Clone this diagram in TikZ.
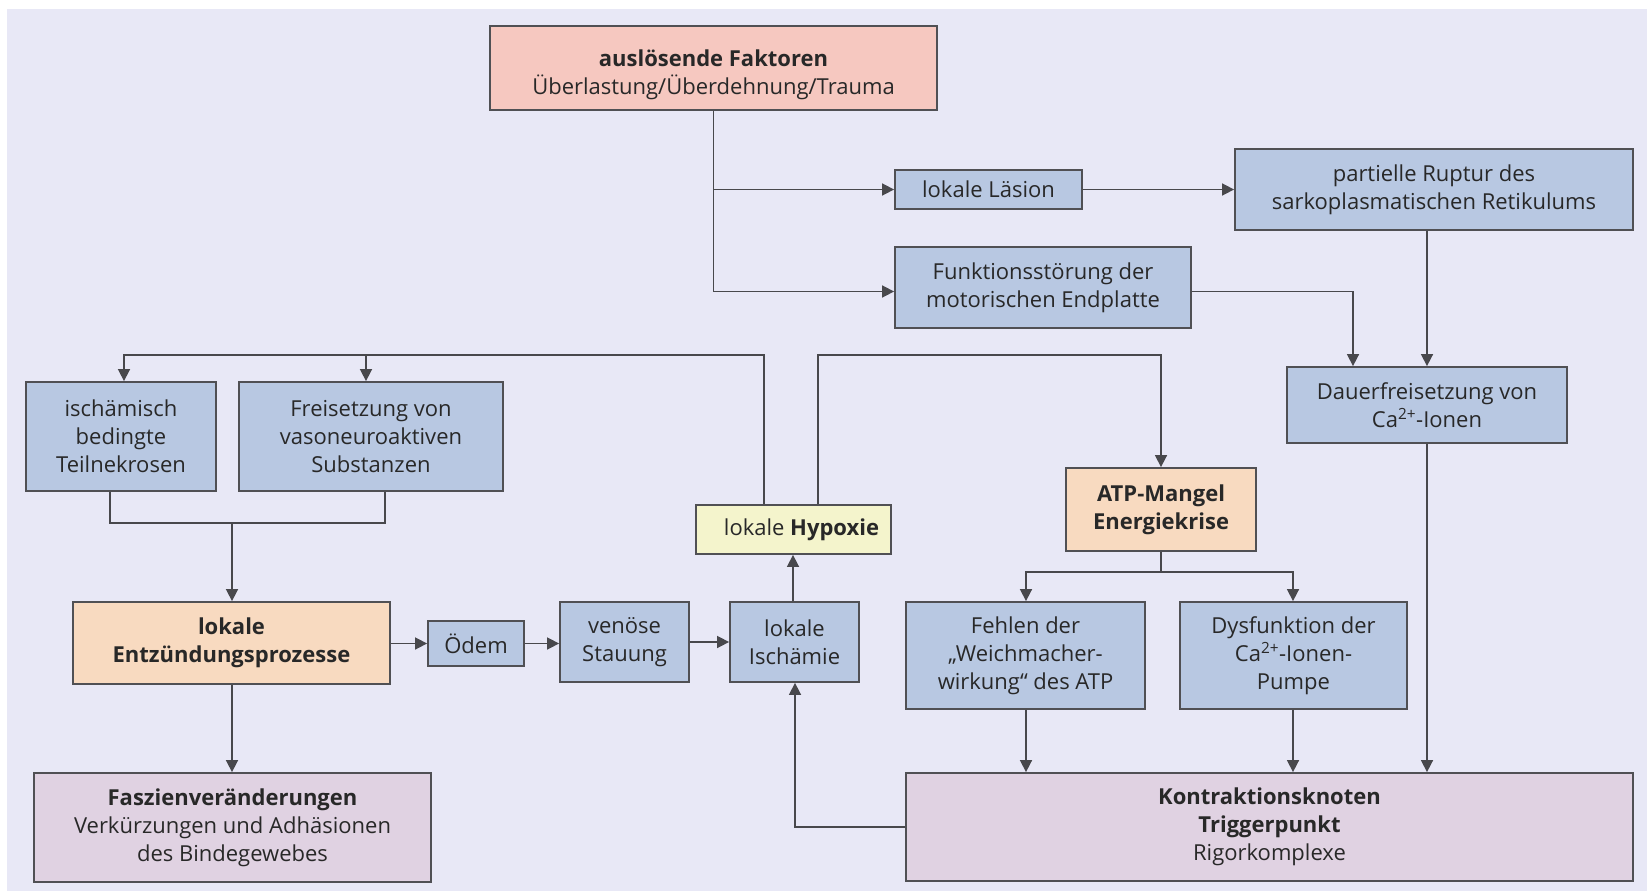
\documentclass[tikz,border=0pt]{standalone}
\usepackage{fontspec}
\setmainfont{Open Sans}
\usetikzlibrary{arrows.meta}
\definecolor{bgc}{RGB}{232,232,246}
\definecolor{blu}{RGB}{184,200,226}
\definecolor{pnk}{RGB}{246,200,192}
\definecolor{org}{RGB}{248,218,192}
\definecolor{ylw}{RGB}{244,244,204}
\definecolor{prp}{RGB}{224,210,226}
\definecolor{edge}{RGB}{80,80,84}
\definecolor{txt}{RGB}{40,40,40}
\begin{document}
\begin{tikzpicture}[x=1pt,y=-1pt,
  box/.style={draw=edge, line width=1.8pt, align=center, text=txt, inner sep=2pt,
    font=\fontsize{22}{28}\selectfont},
  bluebox/.style={box, fill=blu},
  line/.style={draw=edge!90!black, line width=1.6pt},
  arr/.style={line, -{Triangle[length=12pt,width=12pt]}}]
\useasboundingbox (0,0) rectangle (1647,891);
\fill[white] (0,0) rectangle (1647,891);
\fill[bgc] (7,9) rectangle (1647,891);

% nodes
\node[box, fill=pnk, minimum width=447pt, minimum height=84pt] (top) at (713.5,68)
  {\rule{0pt}{30pt}\textbf{auslösende Faktoren}\\Überlastung/Überdehnung/Trauma};
\node[bluebox, minimum width=187pt, minimum height=39pt] (laes) at (988.5,189.5) {lokale Läsion};
\node[bluebox, minimum width=398pt, minimum height=81pt] (rupt) at (1434,189.5)
  {partielle Ruptur des\\sarkoplasmatischen Retikulums};
\node[bluebox, minimum width=296pt, minimum height=81pt] (funk) at (1043,287.5)
  {Funktionsstörung der\\motorischen Endplatte};
\node[bluebox, minimum width=280pt, minimum height=76pt] (dauer) at (1427,405)
  {Dauerfreisetzung von\\Ca\textsuperscript{2+}-Ionen};
\node[bluebox, minimum width=190pt, minimum height=109pt] (isch) at (121,436.5)
  {ischämisch\\bedingte\\Teilnekrosen};
\node[bluebox, minimum width=264pt, minimum height=109pt] (frei) at (371,436.5)
  {Freisetzung von\\vasoneuroaktiven\\Substanzen};
\node[box, fill=ylw, minimum width=195pt, minimum height=49pt] (hypox) at (793.5,529.5)
  {\hspace*{16pt}lokale \textbf{Hypoxie}};
\node[box, fill=org, minimum width=190pt, minimum height=83pt] (atp) at (1161,509.5)
  {\textbf{ATP-Mangel}\\\textbf{Energiekrise}};
\node[box, fill=org, minimum width=317pt, minimum height=82pt] (entz) at (231.5,643)
  {\textbf{lokale}\\\textbf{Entzündungsprozesse}};
\node[bluebox, minimum width=96pt, minimum height=45pt] (oedem) at (476,643.5) {Ödem};
\node[bluebox, minimum width=129pt, minimum height=80pt] (stau) at (624.5,642)
  {venöse\\Stauung};
\node[bluebox, minimum width=129pt, minimum height=80pt] (ischm) at (794.5,642)
  {lokale\\Ischämie};
\node[bluebox, minimum width=239pt, minimum height=107pt] (fehlen) at (1025.5,655.5)
  {Fehlen der\\„Weichmacher-\\wirkung“ des ATP};
\node[bluebox, minimum width=227pt, minimum height=107pt] (dysf) at (1293.5,655.5)
  {Dysfunktion der\\Ca\textsuperscript{2+}-Ionen-\\Pumpe};
\node[box, fill=prp, minimum width=397pt, minimum height=109pt] (fasz) at (232.5,827.5)
  {\textbf{Faszienveränderungen}\\Verkürzungen und Adhäsionen\\des Bindegewebes};
\node[box, fill=prp, minimum width=727pt, minimum height=108pt] (kontr) at (1269.5,827)
  {\textbf{Kontraktionsknoten}\\\textbf{Triggerpunkt}\\Rigorkomplexe};

% helper coordinates
\coordinate (xa) at (1427,0);
\coordinate (xb) at (1353,0);
\coordinate (c1) at (764,355);
\coordinate (c2) at (124,355);
\coordinate (c3) at (366,355);
\coordinate (c4) at (818,355);
\coordinate (c5) at (1161,355);
\coordinate (j1) at (110,523);
\coordinate (j2) at (385,523);
\coordinate (j3) at (232,523);
\coordinate (xh) at (793,0);
\coordinate (a1) at (1161,572);
\coordinate (a2) at (1026,572);
\coordinate (a3) at (1293,572);
\coordinate (xk) at (795,0);

% connectors
\draw[arr] (top.south) |- (laes.west);
\draw[arr] (top.south) |- ([yshift=-4pt]funk.west);
\draw[arr] (laes.east) -- (rupt.west |- laes.east);
\draw[arr] (rupt.south -| xa) -- (dauer.north -| xa);
\draw[arr] ([yshift=-4pt]funk.east) -| (dauer.north -| xb);
\draw[arr] (dauer.south -| xa) -- (kontr.north -| xa);
\draw[arr] (hypox.north -| c1) -- (c1) -- (c2) -- (isch.north -| c2);
\draw[arr] (c3) -- (frei.north -| c3);
\draw[arr] (hypox.north -| c4) -- (c4) -- (c5) -- (atp.north -| c5);
\draw[line] (isch.south -| j1) -- (j1) -- (j2) -- (frei.south -| j2);
\draw[arr] (j3) -- (entz.north -| j3);
\draw[arr] (entz.east |- oedem.west) -- (oedem.west);
\draw[arr] (oedem.east) -- (stau.west |- oedem.east);
\draw[arr] (stau.east) -- (ischm.west);
\draw[arr] (ischm.north -| xh) -- (hypox.south -| xh);
\draw[line] (atp.south) -- (a1);
\draw[arr] (a1) -- (a2) -- (fehlen.north -| a2);
\draw[arr] (a1) -- (a3) -- (dysf.north -| a3);
\draw[arr] (fehlen.south -| a2) -- (kontr.north -| a2);
\draw[arr] (dysf.south -| a3) -- (kontr.north -| a3);
\draw[arr] (kontr.west) -- (kontr.west -| xk) -- (ischm.south -| xk);
\draw[arr] (entz.south -| j3) -- (fasz.north -| j3);
\end{tikzpicture}
\end{document}
